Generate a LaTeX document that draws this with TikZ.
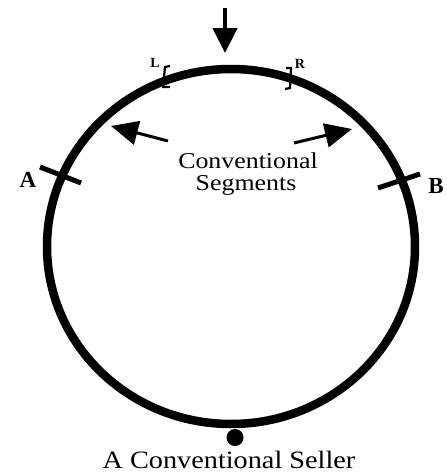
\documentclass[tikz,border=0pt]{standalone}
\usepackage{fontspec}
\setmainfont{Liberation Serif}
\usetikzlibrary{shapes.geometric,arrows.meta}
\tikzset{
  ring/.style={draw, ellipse, line width=8.5pt, inner sep=0pt, minimum width=368pt, minimum height=355pt},
  tick/.style={line width=5pt},
  bigarrow/.style={line width=3pt, -{Triangle[length=27pt,width=24pt]}},
  toparrow/.style={line width=4.5pt, -{Triangle[length=25pt,width=24pt]}},
  bracket/.style={line width=2.2pt},
  txt/.style={inner sep=0pt, anchor=base, font=\fontsize{22.7}{26}\selectfont},
  lab/.style={inner sep=0pt, anchor=base, font=\bfseries\fontsize{23}{26}\selectfont},
  small/.style={inner sep=0pt, anchor=base, font=\bfseries\fontsize{14}{16}\selectfont}
}
\begin{document}
\begin{tikzpicture}[x=1pt,y=-1pt]
\useasboundingbox (0,0) rectangle (447,472);
\node[ring] (market) at (231,246.5) {};
% top arrow
\coordinate (ta) at (225,8);
\coordinate (tb) at (225,53);
\draw[toparrow] (ta) -- (tb);
% brackets
\coordinate (l1) at (170,66);
\coordinate (l2) at (165,67);
\coordinate (l3) at (163,87);
\coordinate (l4) at (170,87);
\draw[bracket] (l1) -- (l2) -- (l3) -- (l4);
\coordinate (r1) at (286,68);
\coordinate (r2) at (291,68);
\coordinate (r3) at (290,88);
\coordinate (r4) at (285,89);
\draw[bracket] (r1) -- (r2) -- (r3) -- (r4);
\node[small] (L) at (155,67) {L};
\node[small] (R) at (300,68) {R};
% ticks
\coordinate (a1) at (40,167);
\coordinate (a2) at (81,183);
\draw[tick] (a1) -- (a2);
\coordinate (b1) at (378,188);
\coordinate (b2) at (420,174);
\draw[tick] (b1) -- (b2);
\node[lab] (A) at (28,187) {A};
\node[lab] (B) at (436,193) {B};
% arrows
\coordinate (lt) at (168,141);
\coordinate (lh) at (111,126);
\draw[bigarrow] (lt) -- (lh);
\coordinate (rt) at (294,143);
\coordinate (rh) at (352,129);
\draw[bigarrow] (rt) -- (rh);
% text
\node[txt] (conv) at (248,168) {\scalebox{1.14}[1]{Conventional}};
\node[txt] (seg) at (246,190) {\scalebox{1.14}[1]{Segments}};
% seller
\fill (235,437.5) circle (8.5);
\node[txt, font=\fontsize{25}{28}\selectfont] (seller) at (229,468) {\scalebox{1.13}[1]{A Conventional Seller}};
\end{tikzpicture}
\end{document}
